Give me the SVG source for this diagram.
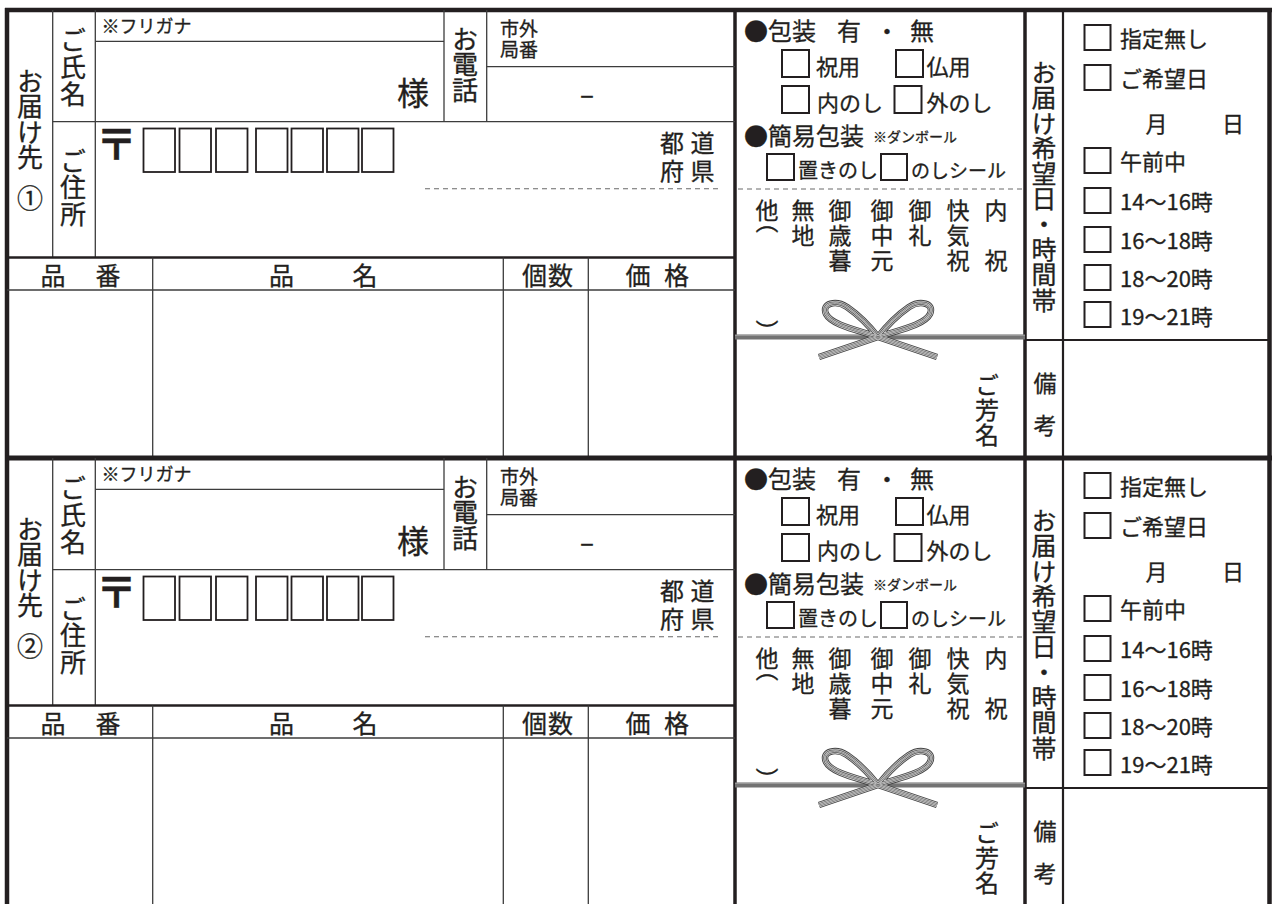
<svg xmlns="http://www.w3.org/2000/svg" xmlns:xlink="http://www.w3.org/1999/xlink" width="1272" height="904" viewBox="0 0 1272 904">
<style>
.t{font-family:"Noto Sans CJK JP","Noto Sans",sans-serif;fill:#231f20;stroke:#231f20;stroke-width:0.3}
.tl{font-family:"Liberation Sans","Noto Sans CJK JP",sans-serif}
.v{writing-mode:vertical-rl;text-orientation:upright}
.m{text-anchor:middle}
.e{text-anchor:end}
.thick{stroke:#231f20;stroke-width:4.5;fill:none}
.bar{stroke:#231f20;stroke-width:3.5;fill:none}
.med{stroke:#231f20;stroke-width:2.2;fill:none}
.thin{stroke:#3c3c3c;stroke-width:1.3;fill:none}
.dash{stroke:#6a6a6a;stroke-width:1.1;stroke-dasharray:5 4;fill:none}
.box{fill:none;stroke:#231f20;stroke-width:2}
.pbox{fill:none;stroke:#231f20;stroke-width:1.8}
.r1{stroke:#444;stroke-width:6.5;fill:none}
.r2{stroke:#d0d0d0;stroke-width:4.8;fill:none}
.r3{stroke:#555;stroke-width:3.4;fill:none}
.r4{stroke:#dadada;stroke-width:1.9;fill:none}
.r5{stroke:#666;stroke-width:0.7;fill:none}
</style>
<defs>
<path id="rp" d="M878,337 C862,331 832,326 826,314 C821,303 836,300 847,307 C860,316 871,328 878,337 M878,337 C894,331 924,326 930,314 C935,303 920,300 909,307 C896,316 885,328 878,337 M878,337 L819,357 M878,337 L937,357"/>
<g id="bow">
<rect x="735" y="334.5" width="290" height="5" fill="#737373"/>
<line x1="735" y1="335.3" x2="1025" y2="335.3" stroke="#a0a0a0" stroke-width="1"/>
<use xlink:href="#rp" class="r1"/>
<use xlink:href="#rp" class="r2"/>
<use xlink:href="#rp" class="r3"/>
<use xlink:href="#rp" class="r4"/>
<use xlink:href="#rp" class="r5"/>
</g>
</defs>
<rect width="1272" height="904" fill="#fff"/>

<g id="frame">
<line class="thick" x1="7" y1="8" x2="7" y2="904"/>
<line class="thick" x1="1269.5" y1="8" x2="1269.5" y2="904"/>
<line class="bar" x1="735" y1="10" x2="735" y2="904"/>
<line class="bar" x1="1025" y1="10" x2="1025" y2="904"/>
</g>

<g id="section1">
<g id="s1-rules">
<line class="thick" x1="5" y1="10" x2="1272" y2="10"/>
<line class="thin" x1="52.7" y1="10" x2="52.7" y2="257"/>
<line class="thin" x1="95.3" y1="10" x2="95.3" y2="257"/>
<line class="thin" x1="95.3" y1="41.3" x2="444" y2="41.3"/>
<line class="thin" x1="52.7" y1="121.7" x2="735" y2="121.7"/>
<line class="thin" x1="444" y1="10" x2="444" y2="121.7"/>
<line class="thin" x1="486.7" y1="10" x2="486.7" y2="121.7"/>
<line class="thin" x1="486.7" y1="66.7" x2="735" y2="66.7"/>
<line class="dash" x1="425" y1="188.7" x2="720" y2="188.7"/>
<line class="med" x1="7" y1="257.5" x2="735" y2="257.5" style="stroke-width:2.6"/>
<line class="thin" x1="7" y1="290" x2="735" y2="290" style="stroke-width:1.6"/>
<line class="thin" x1="152.7" y1="257.5" x2="152.7" y2="458"/>
<line class="thin" x1="503.3" y1="257.5" x2="503.3" y2="458"/>
<line class="thin" x1="588.3" y1="257.5" x2="588.3" y2="458"/>
<line class="dash" x1="738" y1="189" x2="1023" y2="189"/>
<line class="med" x1="1063" y1="10" x2="1063" y2="458"/>
<line class="med" x1="1025" y1="340" x2="1270" y2="340"/>
</g>
<g id="s1-recipient">
<text class="t v" x="30" y="68" font-size="26" letter-spacing="-0.5">お届け先</text>
<text class="t m" x="30" y="208" font-size="26">①</text>
<text class="t v" x="73" y="27" font-size="26" letter-spacing="1">ご氏名</text>
<text class="t v" x="73" y="148" font-size="26" letter-spacing="0.5">ご住所</text>
<text class="t" x="101.5" y="33" font-size="18">※フリガナ</text>
<text class="t e" x="429" y="105" font-size="32">様</text>
<text class="t v" x="465" y="26" font-size="26" letter-spacing="-0.5">お電話</text>
<text class="t tl" x="500" y="35.5" font-size="19">市外</text>
<text class="t tl" x="500" y="57" font-size="19">局番</text>
<text class="t m" x="587" y="104" font-size="26">–</text>
<text class="t m" x="116.5" y="160" font-size="42" font-weight="bold">〒</text>
<rect class="pbox" x="143.5" y="128.5" width="31.5" height="43.5"/>
<rect class="pbox" x="179.5" y="128.5" width="31.5" height="43.5"/>
<rect class="pbox" x="216" y="128.5" width="31.5" height="43.5"/>
<rect class="pbox" x="256" y="128.5" width="31.5" height="43.5"/>
<rect class="pbox" x="291.5" y="128.5" width="31.5" height="43.5"/>
<rect class="pbox" x="327" y="128.5" width="31.5" height="43.5"/>
<rect class="pbox" x="362" y="128.5" width="31.5" height="43.5"/>
<text class="t tl m" font-size="24"><tspan x="672" y="152">都</tspan><tspan x="702.5" y="152">道</tspan></text>
<text class="t tl m" font-size="24"><tspan x="672" y="179.5">府</tspan><tspan x="702.5" y="179.5">県</tspan></text>
</g>
<g id="s1-products">
<text class="t m" font-size="25"><tspan x="53" y="285">品</tspan><tspan x="108" y="285">番</tspan></text>
<text class="t m" font-size="25"><tspan x="281.5" y="285">品</tspan><tspan x="365" y="285">名</tspan></text>
<text class="t m" x="548" y="285" font-size="25" letter-spacing="1">個数</text>
<text class="t m" font-size="25"><tspan x="638" y="285">価</tspan><tspan x="676.5" y="285">格</tspan></text>
</g>
<g id="s1-wrapping">
<text class="t" font-size="24"><tspan x="744" y="40">●包装</tspan><tspan x="837" y="40">有</tspan><tspan x="875" y="40">・</tspan><tspan x="910" y="40">無</tspan></text>
<rect class="box" x="782" y="50" width="27" height="27"/>
<rect class="box" x="896" y="50" width="27" height="27"/>
<rect class="box" x="782" y="86" width="27" height="27"/>
<rect class="box" x="894.5" y="86" width="27" height="27"/>
<text class="t" x="816" y="75" font-size="22">祝用</text>
<text class="t" x="926.5" y="75" font-size="22">仏用</text>
<text class="t" x="817" y="111" font-size="22">内のし</text>
<text class="t" x="926.5" y="111" font-size="22">外のし</text>
<text class="t" x="744" y="145" font-size="24">●簡易包装</text>
<text class="t" x="873" y="142" font-size="14">※ダンボール</text>
<rect class="box" x="767" y="154" width="27" height="26"/>
<rect class="box" x="881" y="154" width="26" height="26"/>
<text class="t" x="798" y="178" font-size="20">置きのし</text>
<text class="t" x="911" y="178" font-size="19">のしシール</text>
<text class="t v" x="767" y="199" font-size="23" letter-spacing="-12">他︵</text>
<text class="t m" x="767" y="340" font-size="23">︶</text>
<text class="t v" x="803" y="199" font-size="23" letter-spacing="2">無地</text>
<text class="t v" x="840" y="199" font-size="23" letter-spacing="2">御歳暮</text>
<text class="t v" x="882" y="199" font-size="23" letter-spacing="2">御中元</text>
<text class="t v" x="920" y="199" font-size="23" letter-spacing="2">御礼</text>
<text class="t v" x="958" y="199" font-size="23" letter-spacing="2">快気祝</text>
<text class="t v" x="996" y="199" font-size="23" letter-spacing="2">内　祝</text>
<use xlink:href="#bow"/>
<text class="t v" x="987" y="373" font-size="24" letter-spacing="1">ご芳名</text>
</g>
<g id="s1-delivery">
<text class="t v" x="1044" y="60" font-size="25" letter-spacing="0.3">お届け希望日・時間帯</text>
<rect class="box" x="1084.5" y="25" width="26" height="25"/>
<rect class="box" x="1084.5" y="65" width="26" height="25"/>
<rect class="box" x="1084.5" y="148" width="26" height="25"/>
<rect class="box" x="1084.5" y="188" width="26" height="25"/>
<rect class="box" x="1084.5" y="227" width="26" height="25"/>
<rect class="box" x="1084.5" y="265" width="26" height="25"/>
<rect class="box" x="1084.5" y="302" width="26" height="25"/>
<text class="t" x="1120" y="47" font-size="22">指定無し</text>
<text class="t" x="1120" y="87" font-size="22">ご希望日</text>
<text class="t m" font-size="22"><tspan x="1156.5" y="132">月</tspan><tspan x="1233" y="132">日</tspan></text>
<text class="t" x="1120" y="170" font-size="22">午前中</text>
<text class="t" x="1120" y="210" font-size="22">14～16時</text>
<text class="t" x="1120" y="249" font-size="22">16～18時</text>
<text class="t" x="1120" y="287" font-size="22">18～20時</text>
<text class="t" x="1120" y="325" font-size="22">19～21時</text>
<text class="t v" x="1045" y="372" font-size="23" letter-spacing="19">備考</text>
</g>
</g>

<g id="section2" transform="translate(0,448)">
<g id="s2-rules">
<line class="thick" x1="5" y1="10" x2="1272" y2="10" style="stroke-width:5"/>
<line class="thin" x1="52.7" y1="10" x2="52.7" y2="257"/>
<line class="thin" x1="95.3" y1="10" x2="95.3" y2="257"/>
<line class="thin" x1="95.3" y1="41.3" x2="444" y2="41.3"/>
<line class="thin" x1="52.7" y1="121.7" x2="735" y2="121.7"/>
<line class="thin" x1="444" y1="10" x2="444" y2="121.7"/>
<line class="thin" x1="486.7" y1="10" x2="486.7" y2="121.7"/>
<line class="thin" x1="486.7" y1="66.7" x2="735" y2="66.7"/>
<line class="dash" x1="425" y1="188.7" x2="720" y2="188.7"/>
<line class="med" x1="7" y1="257.5" x2="735" y2="257.5" style="stroke-width:2.6"/>
<line class="thin" x1="7" y1="290" x2="735" y2="290" style="stroke-width:1.6"/>
<line class="thin" x1="152.7" y1="257.5" x2="152.7" y2="458"/>
<line class="thin" x1="503.3" y1="257.5" x2="503.3" y2="458"/>
<line class="thin" x1="588.3" y1="257.5" x2="588.3" y2="458"/>
<line class="dash" x1="738" y1="189" x2="1023" y2="189"/>
<line class="med" x1="1063" y1="10" x2="1063" y2="458"/>
<line class="med" x1="1025" y1="340" x2="1270" y2="340"/>
</g>
<g id="s2-recipient">
<text class="t v" x="30" y="68" font-size="26" letter-spacing="-0.5">お届け先</text>
<text class="t m" x="30" y="208" font-size="26">②</text>
<text class="t v" x="73" y="27" font-size="26" letter-spacing="1">ご氏名</text>
<text class="t v" x="73" y="148" font-size="26" letter-spacing="0.5">ご住所</text>
<text class="t" x="101.5" y="33" font-size="18">※フリガナ</text>
<text class="t e" x="429" y="105" font-size="32">様</text>
<text class="t v" x="465" y="26" font-size="26" letter-spacing="-0.5">お電話</text>
<text class="t tl" x="500" y="35.5" font-size="19">市外</text>
<text class="t tl" x="500" y="57" font-size="19">局番</text>
<text class="t m" x="587" y="104" font-size="26">–</text>
<text class="t m" x="116.5" y="160" font-size="42" font-weight="bold">〒</text>
<rect class="pbox" x="143.5" y="128.5" width="31.5" height="43.5"/>
<rect class="pbox" x="179.5" y="128.5" width="31.5" height="43.5"/>
<rect class="pbox" x="216" y="128.5" width="31.5" height="43.5"/>
<rect class="pbox" x="256" y="128.5" width="31.5" height="43.5"/>
<rect class="pbox" x="291.5" y="128.5" width="31.5" height="43.5"/>
<rect class="pbox" x="327" y="128.5" width="31.5" height="43.5"/>
<rect class="pbox" x="362" y="128.5" width="31.5" height="43.5"/>
<text class="t tl m" font-size="24"><tspan x="672" y="152">都</tspan><tspan x="702.5" y="152">道</tspan></text>
<text class="t tl m" font-size="24"><tspan x="672" y="179.5">府</tspan><tspan x="702.5" y="179.5">県</tspan></text>
</g>
<g id="s2-products">
<text class="t m" font-size="25"><tspan x="53" y="285">品</tspan><tspan x="108" y="285">番</tspan></text>
<text class="t m" font-size="25"><tspan x="281.5" y="285">品</tspan><tspan x="365" y="285">名</tspan></text>
<text class="t m" x="548" y="285" font-size="25" letter-spacing="1">個数</text>
<text class="t m" font-size="25"><tspan x="638" y="285">価</tspan><tspan x="676.5" y="285">格</tspan></text>
</g>
<g id="s2-wrapping">
<text class="t" font-size="24"><tspan x="744" y="40">●包装</tspan><tspan x="837" y="40">有</tspan><tspan x="875" y="40">・</tspan><tspan x="910" y="40">無</tspan></text>
<rect class="box" x="782" y="50" width="27" height="27"/>
<rect class="box" x="896" y="50" width="27" height="27"/>
<rect class="box" x="782" y="86" width="27" height="27"/>
<rect class="box" x="894.5" y="86" width="27" height="27"/>
<text class="t" x="816" y="75" font-size="22">祝用</text>
<text class="t" x="926.5" y="75" font-size="22">仏用</text>
<text class="t" x="817" y="111" font-size="22">内のし</text>
<text class="t" x="926.5" y="111" font-size="22">外のし</text>
<text class="t" x="744" y="145" font-size="24">●簡易包装</text>
<text class="t" x="873" y="142" font-size="14">※ダンボール</text>
<rect class="box" x="767" y="154" width="27" height="26"/>
<rect class="box" x="881" y="154" width="26" height="26"/>
<text class="t" x="798" y="178" font-size="20">置きのし</text>
<text class="t" x="911" y="178" font-size="19">のしシール</text>
<text class="t v" x="767" y="199" font-size="23" letter-spacing="-12">他︵</text>
<text class="t m" x="767" y="340" font-size="23">︶</text>
<text class="t v" x="803" y="199" font-size="23" letter-spacing="2">無地</text>
<text class="t v" x="840" y="199" font-size="23" letter-spacing="2">御歳暮</text>
<text class="t v" x="882" y="199" font-size="23" letter-spacing="2">御中元</text>
<text class="t v" x="920" y="199" font-size="23" letter-spacing="2">御礼</text>
<text class="t v" x="958" y="199" font-size="23" letter-spacing="2">快気祝</text>
<text class="t v" x="996" y="199" font-size="23" letter-spacing="2">内　祝</text>
<use xlink:href="#bow"/>
<text class="t v" x="987" y="373" font-size="24" letter-spacing="1">ご芳名</text>
</g>
<g id="s2-delivery">
<text class="t v" x="1044" y="60" font-size="25" letter-spacing="0.3">お届け希望日・時間帯</text>
<rect class="box" x="1084.5" y="25" width="26" height="25"/>
<rect class="box" x="1084.5" y="65" width="26" height="25"/>
<rect class="box" x="1084.5" y="148" width="26" height="25"/>
<rect class="box" x="1084.5" y="188" width="26" height="25"/>
<rect class="box" x="1084.5" y="227" width="26" height="25"/>
<rect class="box" x="1084.5" y="265" width="26" height="25"/>
<rect class="box" x="1084.5" y="302" width="26" height="25"/>
<text class="t" x="1120" y="47" font-size="22">指定無し</text>
<text class="t" x="1120" y="87" font-size="22">ご希望日</text>
<text class="t m" font-size="22"><tspan x="1156.5" y="132">月</tspan><tspan x="1233" y="132">日</tspan></text>
<text class="t" x="1120" y="170" font-size="22">午前中</text>
<text class="t" x="1120" y="210" font-size="22">14～16時</text>
<text class="t" x="1120" y="249" font-size="22">16～18時</text>
<text class="t" x="1120" y="287" font-size="22">18～20時</text>
<text class="t" x="1120" y="325" font-size="22">19～21時</text>
<text class="t v" x="1045" y="372" font-size="23" letter-spacing="19">備考</text>
</g>
</g>
</svg>
